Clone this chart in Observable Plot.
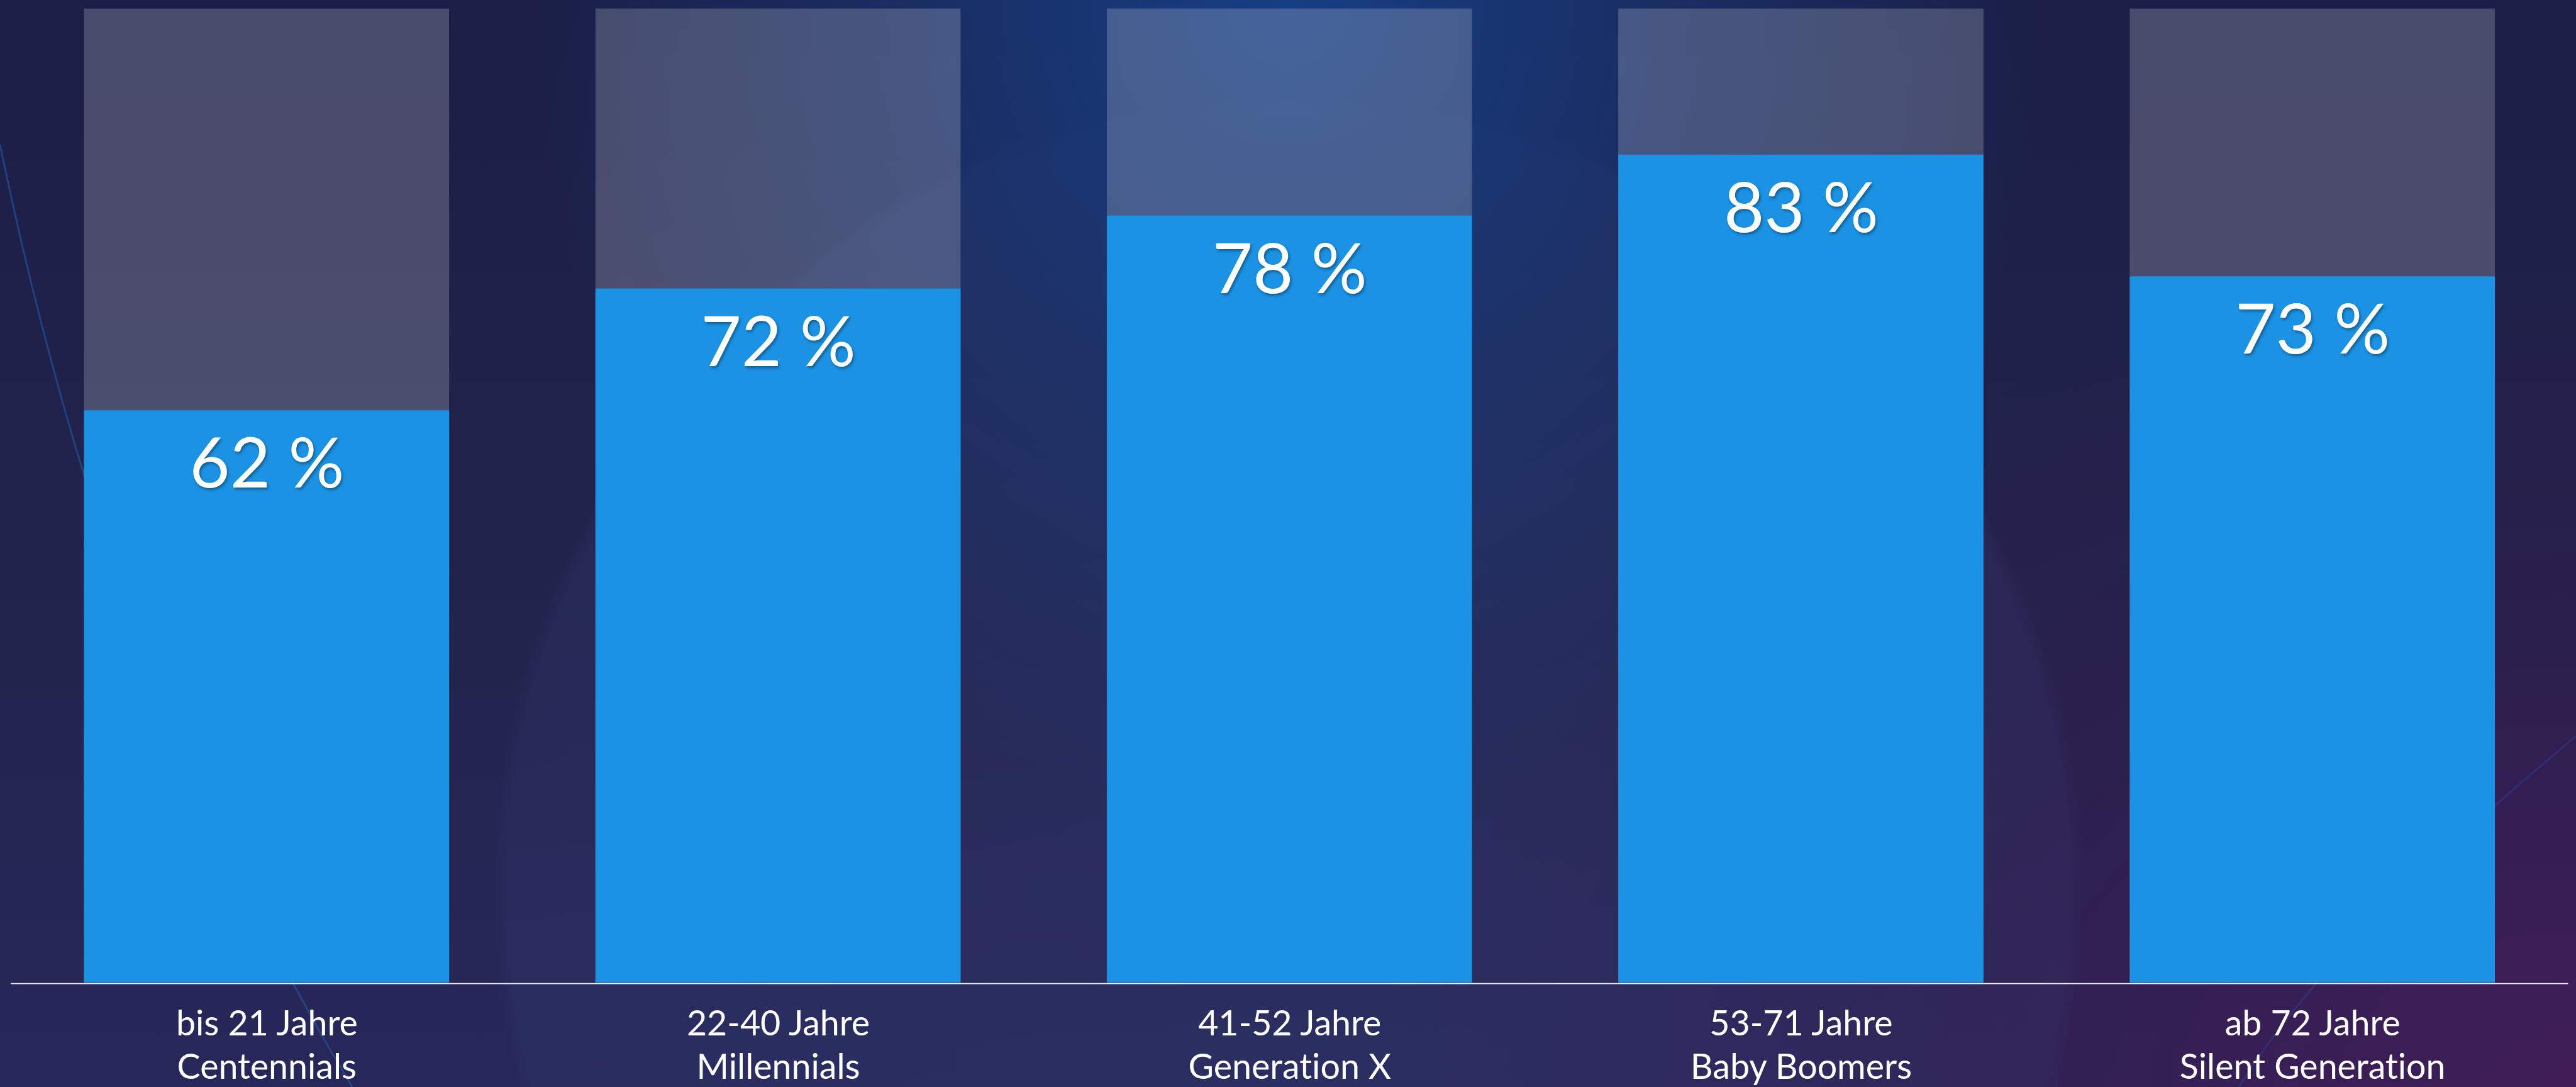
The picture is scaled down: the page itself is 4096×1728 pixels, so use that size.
<!DOCTYPE html>
<html>
<head>
<meta charset="utf-8">
<script src="https://cdn.jsdelivr.net/npm/d3@7"></script>
<script src="https://cdn.jsdelivr.net/npm/@observablehq/plot@0.6"></script>
<style>
  html, body { margin: 0; padding: 0; width: 4096px; height: 1728px; overflow: hidden; }
  body {
    position: relative;
    background:
      radial-gradient(ellipse 30% 75% at 50% 0%, rgba(22, 64, 135, 0.95) 0%, rgba(24, 60, 125, 0.5) 50%, rgba(24, 60, 125, 0) 100%),
      radial-gradient(circle at 50% 82%, rgba(70, 80, 140, 0.16) 0, rgba(70, 80, 140, 0.12) 1240px, rgba(70, 80, 140, 0) 1265px),
      radial-gradient(ellipse 45% 75% at 100% 100%, rgba(66, 28, 86, 0.95) 0%, rgba(52, 26, 76, 0.5) 55%, rgba(50, 26, 72, 0) 100%),
      linear-gradient(to bottom, #1b1e46 0%, #22244e 60%, #27285a 100%);
  }
  #arcs { position: absolute; left: 0; top: 0; width: 4096px; height: 1728px; pointer-events: none; }
  #chart { position: absolute; left: 0; top: 0; }
  svg text, svg tspan { font-variant-ligatures: none; font-feature-settings: "liga" 0, "clig" 0; }
  g[aria-label="text"] text { filter: drop-shadow(2px 3px 2px rgba(0, 0, 0, 0.35)); }
</style>
</head>
<body>
<svg id="arcs" width="4096" height="1728">
  <path d="M 0 230 Q 180 1100 560 1728" fill="none" stroke="rgba(40,90,170,0.55)" stroke-width="3"/>
  <path d="M 4096 1170 Q 3700 1500 3560 1728" fill="none" stroke="rgba(50,60,150,0.5)" stroke-width="3"/>
</svg>
<div id="chart"></div>
<script>
// Data
const ageRanges = ["bis 21 Jahre", "22-40 Jahre", "41-52 Jahre", "53-71 Jahre", "ab 72 Jahre"];
const generations = ["Centennials", "Millennials", "Generation X", "Baby Boomers", "Silent Generation"];
const shares = [62, 72, 78, 83, 73];
// value axis as drawn in the picture: baseline at 15, background bars up to 95
const yDomain = [15, 95];

const categories = ageRanges.map((a, i) => `${a}\n${generations[i]}`);
const data = categories.map((c, i) => ({category: c, share: shares[i], label: `${shares[i]} %`}));

const S = 0.907;
const chart = Plot.plot({
  width: 4096,
  height: 1728,
  marginTop: 15 * S,
  marginBottom: 1728 - 1722 * S,
  marginLeft: 19 * S,
  marginRight: 4096 - 4502 * S,
  style: {background: "transparent", color: "white", fontFamily: "Lato, 'Open Sans', sans-serif"},
  x: {domain: categories, paddingInner: 0.286, paddingOuter: 0.143, round: false, label: null},
  y: {domain: yDomain, axis: null},
  marks: [
    Plot.barY(data, {x: "category", y1: yDomain[0], y2: yDomain[1], fill: "white", fillOpacity: 0.2}),
    Plot.barY(data, {x: "category", y1: yDomain[0], y2: "share", fill: "#1b92e4"}),
    Plot.ruleY([yDomain[0]], {stroke: "#eeeef4", strokeWidth: 2 * S, dy: 1.3 * S}),
    Plot.text(data, {x: "category", y: "share", text: "label", fill: "white", fontSize: 111, lineAnchor: "bottom", dy: 135 * S, fontWeight: 400}),
    Plot.axisX({tickSize: 0, tickPadding: 34, fontSize: 55.5, lineHeight: 1.25, label: null, fill: "white"})
  ]
});
document.getElementById("chart").appendChild(chart);
</script>
</body>
</html>
